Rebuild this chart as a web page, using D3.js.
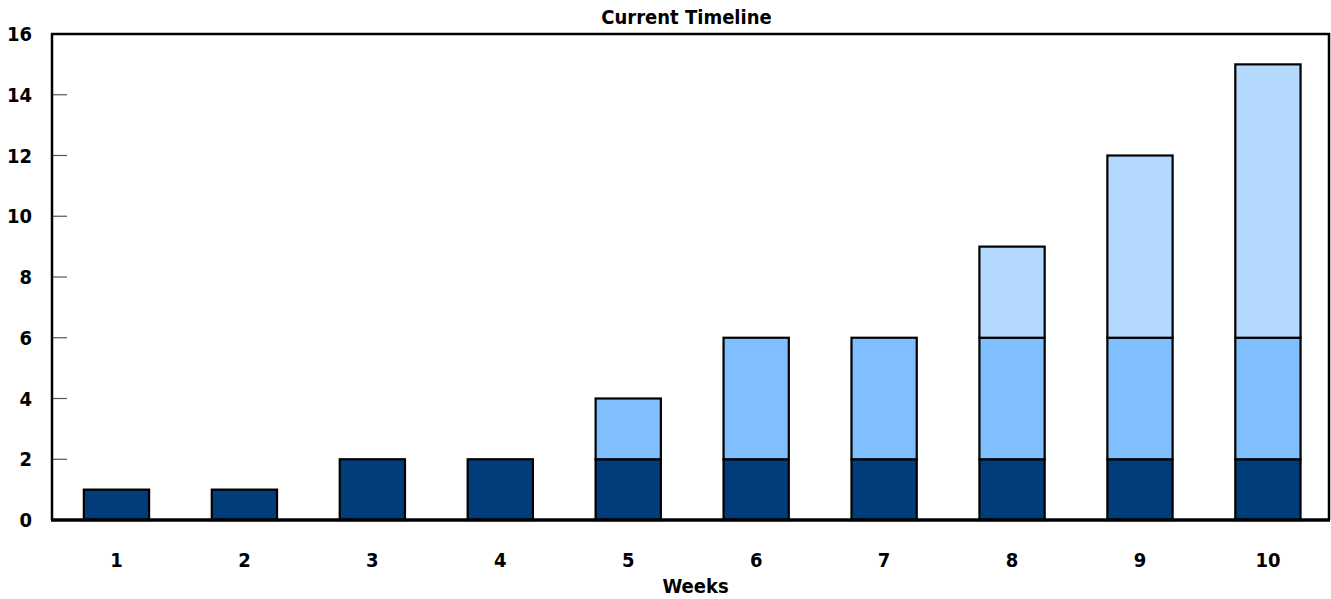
<!DOCTYPE html>
<html><head><meta charset="utf-8">
<script src="https://cdn.jsdelivr.net/npm/d3@7"></script>
<style>
body{margin:0;background:#fff;}
text{font-family:"DejaVu Sans Condensed","DejaVu Sans",sans-serif;font-weight:bold;fill:#000;}
</style></head>
<body><svg id="c" width="1331" height="599"></svg>
<script>
const weeks = ["1","2","3","4","5","6","7","8","9","10"];
const seriesA = [1,1,2,2,2,2,2,2,2,2];
const seriesB = [0,0,0,0,2,4,4,4,4,4];
const seriesC = [0,0,0,0,0,0,0,3,6,9];
const yTicks = [0,2,4,6,8,10,12,14,16];
const colors = ["#003d7a","#80bfff","#b3d9ff"];

const svg = d3.select("#c");
const L=52,R=1329,T=34,B=520;
const x = d3.scaleBand().domain(weeks).range([52.5,1331.9]).paddingInner(0.49).paddingOuter(0.245);
const y = d3.scaleLinear().domain([0,16]).range([B,T]);

const rows = weeks.map((w,i)=>({w,a:seriesA[i],b:seriesB[i],c:seriesC[i]}));
const stack = d3.stack().keys(["a","b","c"])(rows);

// y ticks inside
svg.append("g").selectAll("line").data(yTicks.slice(1,-1)).join("line")
  .attr("x1",L).attr("x2",L+15).attr("y1",d=>y(d)).attr("y2",d=>y(d))
  .attr("stroke","#555").attr("stroke-width",1.2);

stack.forEach((s,k)=>{
  svg.append("g").selectAll("rect").data(s.filter(d=>d[1]>d[0])).join("rect")
    .attr("x",d=>x(d.data.w)).attr("width",x.bandwidth())
    .attr("y",d=>y(d[1])).attr("height",d=>y(d[0])-y(d[1]))
    .attr("fill",colors[k]).attr("stroke","#000").attr("stroke-width",2.2);
});

// frame
svg.append("path").attr("d",`M${L},${B}V${T}H${R}V${B}`).attr("fill","none").attr("stroke","#000").attr("stroke-width",2.5);
svg.append("line").attr("x1",L-1).attr("x2",R+1).attr("y1",B).attr("y2",B).attr("stroke","#000").attr("stroke-width",3.5);

// y labels
svg.append("g").selectAll("text").data(yTicks).join("text")
  .attr("x",32).attr("y",d=>y(d)).attr("dy","0.35em").attr("text-anchor","end")
  .style("font-size","20px").text(d=>d);

// x labels
svg.append("g").selectAll("text").data(weeks).join("text")
  .attr("x",d=>x(d)+x.bandwidth()/2).attr("y",560).attr("dy","0.35em").attr("text-anchor","middle")
  .style("font-size","20px").text(d=>d);

svg.append("text").attr("x",(L+R)/2+5).attr("y",586).attr("dy","0.35em").attr("text-anchor","middle")
  .style("font-size","20px").text("Weeks");
svg.append("text").attr("x",(L+R)/2-4).attr("y",17).attr("dy","0.35em").attr("text-anchor","middle")
  .style("font-size","20px").text("Current Timeline");
</script></body></html>
